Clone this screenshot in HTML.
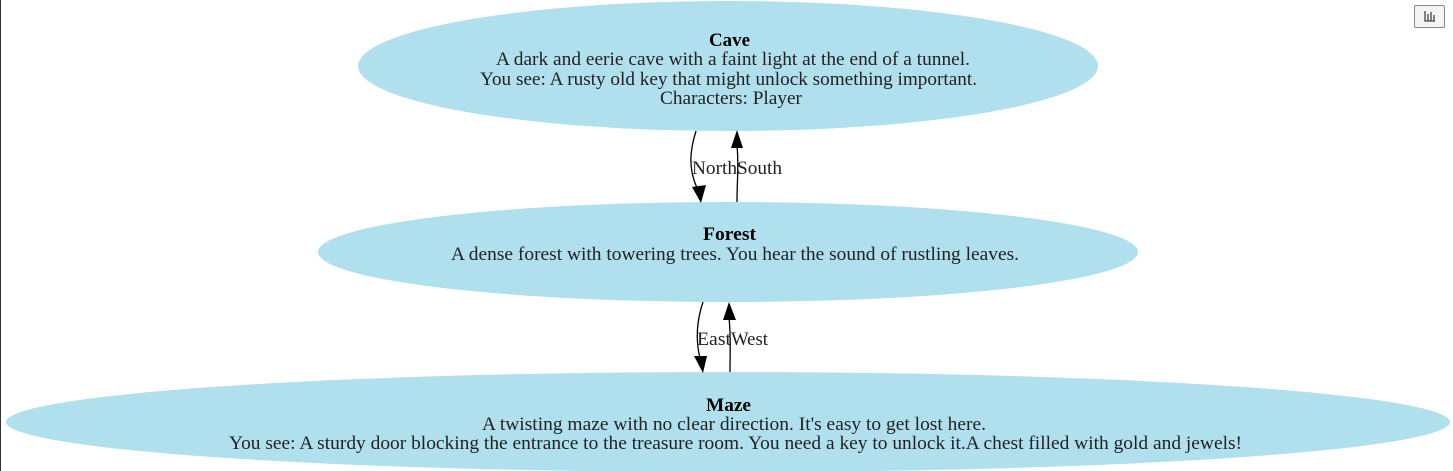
<!DOCTYPE html>
<html><head><meta charset="utf-8"><style>
html,body{margin:0;padding:0;background:#fff;width:1453px;height:471px;overflow:hidden}
svg{position:absolute;left:0;top:0}
text{font-family:"Liberation Serif",serif;font-size:19px;fill:#222}
.b{font-weight:bold;fill:#000}
#btn{position:absolute;left:1414px;top:5px;width:31px;height:23px;border:1px solid #888;border-radius:2px;background:#f4f4f4;box-sizing:border-box}
</style></head><body>
<svg width="1453" height="471">
<line x1="0.5" y1="0" x2="0.5" y2="471" stroke="#333"/>
<g>
<ellipse cx="728" cy="66" rx="370" ry="65" fill="#b0dfed"/>
<text x="709" y="46" class="b" textLength="41" lengthAdjust="spacingAndGlyphs">Cave</text>
<text x="496" y="65" textLength="474" lengthAdjust="spacingAndGlyphs">A dark and eerie cave with a faint light at the end of a tunnel.</text>
<text x="480" y="85" textLength="497" lengthAdjust="spacingAndGlyphs">You see: A rusty old key that might unlock something important.</text>
<text x="660" y="104" textLength="142" lengthAdjust="spacingAndGlyphs">Characters: Player</text>
</g>
<g>
<ellipse cx="728" cy="252" rx="410" ry="50" fill="#b0dfed"/>
<text x="703" y="240" class="b" textLength="53" lengthAdjust="spacingAndGlyphs">Forest</text>
<text x="451" y="260" textLength="568" lengthAdjust="spacingAndGlyphs">A dense forest with towering trees. You hear the sound of rustling leaves.</text>
</g>
<g>
<ellipse cx="728" cy="422" rx="722" ry="50" fill="#b0dfed"/>
<text x="706" y="411" class="b" textLength="45" lengthAdjust="spacingAndGlyphs">Maze</text>
<text x="482" y="430" textLength="504" lengthAdjust="spacingAndGlyphs">A twisting maze with no clear direction. It's easy to get lost here.</text>
<text x="229" y="449" textLength="1013" lengthAdjust="spacingAndGlyphs">You see: A sturdy door blocking the entrance to the treasure room. You need a key to unlock it.A chest filled with gold and jewels!</text>
</g>
<g fill="none" stroke="#000" stroke-width="1.3">
<path d="M696,131 C690,150 688,168 697,188"/>
<path d="M737,202 C737,180 739,165 737,146"/>
<path d="M703,302 C697,320 695,338 700,358"/>
<path d="M730,372 C730,350 731,335 729,318"/>
</g>
<g fill="#000">
<polygon points="692,187 706,185 701,203"/>
<polygon points="731,148 743,148 737,130"/>
<polygon points="694,356 707,356 703,373"/>
<polygon points="723,320 736,320 729,302"/>
</g>
<text x="692" y="174" textLength="45" lengthAdjust="spacingAndGlyphs">North</text>
<text x="737" y="174" textLength="45" lengthAdjust="spacingAndGlyphs">South</text>
<text x="697" y="345" textLength="34" lengthAdjust="spacingAndGlyphs">East</text>
<text x="731" y="345" textLength="37" lengthAdjust="spacingAndGlyphs">West</text>
</svg>
<div id="btn">
<svg width="29" height="21" style="left:0;top:0">
<g stroke="#444" stroke-width="1.3" fill="none"><path d="M10,5 V15 H20"/><path d="M13,8 V15 M16,6 V15 M19,9 V15"/></g>
</svg></div>
</body></html>
